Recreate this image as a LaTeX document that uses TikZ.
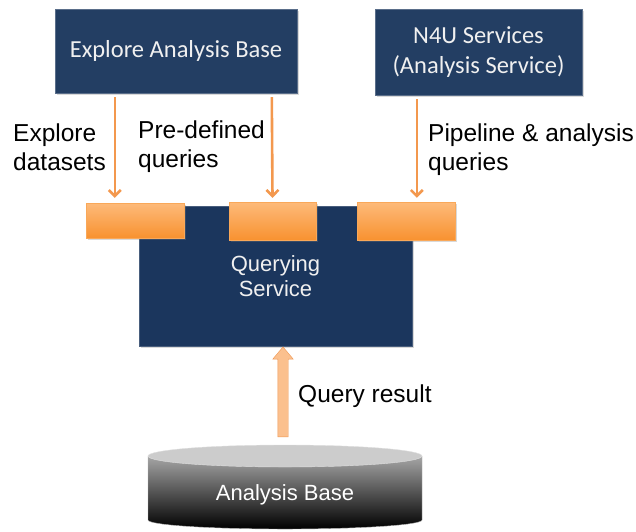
\documentclass[tikz,border=0pt]{standalone}
\usepackage{fontspec}
\setmainfont{Liberation Sans}
\newfontfamily\calibri{Carlito}
\usetikzlibrary{shapes.arrows,arrows.meta,shadows}
\definecolor{navy}{RGB}{35,62,99}
\definecolor{qnavy}{RGB}{27,54,93}
\definecolor{tabtop}{RGB}{253,186,122}
\definecolor{tabbot}{RGB}{248,146,48}
\definecolor{arrowor}{RGB}{243,152,78}
\definecolor{upfill}{RGB}{251,192,142}
\definecolor{upline}{RGB}{238,150,82}
\begin{document}
\begin{tikzpicture}[x=1pt,y=-1pt]
  \tikzstyle{every node}=[font=\fontsize{24.5}{29}\selectfont]
  \tikzstyle{softshadow}=[drop shadow={shadow xshift=1.5pt,shadow yshift=-1.5pt,opacity=0.3}]
  \tikzstyle{topbox}=[softshadow,fill=navy,draw=navy!75!white,text=white!94!black,align=center,font=\calibri\fontsize{24.5}{30}\selectfont]
  \tikzstyle{qbox}=[softshadow,fill=qnavy,draw=qnavy!80!white,text=white!94!black,align=center,font=\fontsize{22}{25}\selectfont]
  \tikzstyle{tab}=[softshadow,top color=tabtop,bottom color=tabbot,draw=tabbot!80!white]
  \tikzstyle{feed}=[draw=arrowor,line width=2.6pt,-{Straight Barb[length=6pt,width=12pt]}]
  \tikzstyle{lbl}=[align=left,anchor=base west,inner sep=0pt]
  \useasboundingbox (0,0) rectangle (636,531);

  \node[topbox,minimum width=242pt,minimum height=84pt] (explore) at (176,51) {Explore Analysis Base};
  \node[topbox,minimum width=207pt,minimum height=86pt] (n4u) at (478.5,52) {N4U Services\\(Analysis Service)};

  \node[qbox,minimum width=273pt,minimum height=140pt] (query) at (275.5,276) {Querying\\Service};
  \node[tab,minimum width=98pt,minimum height=35pt] (tab1) at (135,220.5) {};
  \node[tab,minimum width=87pt,minimum height=38pt] (tab2) at (272.5,221) {};
  \node[tab,minimum width=98pt,minimum height=38pt] (tab3) at (406,221) {};

  \draw[feed] ([xshift=60pt,yshift=-4pt]explore.south west) -- ([xshift=29pt,yshift=5pt]tab1.north west);
  \draw[feed] ([xshift=217pt,yshift=-4pt]explore.south west) -- ([yshift=4pt]tab2.north);
  \draw[feed] ([xshift=42pt,yshift=-4pt]n4u.south west) -- ([xshift=60pt,yshift=4pt]tab3.north west);

  \node[lbl] (lexplore) at (13,170) {Explore\\datasets};
  \node[lbl] (lpredef) at (138,167) {Pre-defined\\queries};
  \node[lbl] (lpipe) at (428,170) {Pipeline \& analysis\\queries};

  \shade[top color=gray!70!white,bottom color=black,draw=gray!60]
    (148,456) -- (148,520) arc[start angle=180,end angle=360,x radius=137pt,y radius=9pt] -- (422,456) -- cycle;
  \filldraw[fill=gray!40!white,draw=gray!25!white] (285,456) ellipse[x radius=137pt,y radius=11pt];
  \node[text=white,font=\fontsize{22}{26}\selectfont] (dbase) at (285,495) {Analysis Base};

  \node[single arrow,shape border rotate=90,fill=upfill,draw=upline,inner sep=5pt,
        single arrow head extend=5pt,single arrow tip angle=80,minimum height=90pt] (result) at (283,395) {};
  \node[lbl] (lresult) at (298,402) {Query result};
\end{tikzpicture}
\end{document}
